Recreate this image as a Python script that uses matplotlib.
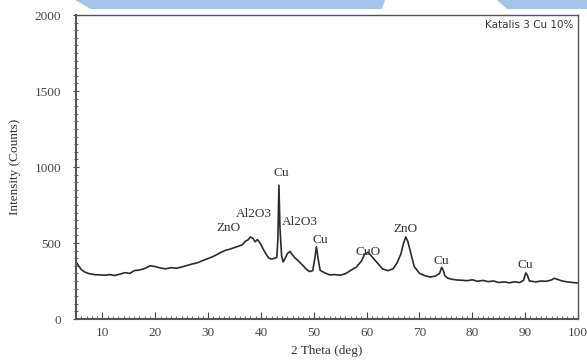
import matplotlib
matplotlib.use("Agg")
import matplotlib.pyplot as plt
from matplotlib.patches import Polygon
from matplotlib.ticker import MultipleLocator

# XRD pattern, Katalis 3 Cu 10%
two_theta = [5, 5.5, 6, 6.7, 7.5, 8.5, 9.5, 10.5, 11.4, 12.3,
             13.2, 14.3, 15.2, 16, 17, 18, 19, 20, 21, 22,
             23, 24, 25, 26, 27, 28, 29, 30, 31, 32,
             32.5, 33.3, 34, 35, 35.8, 36.5, 37, 37.6, 38, 38.5,
             38.9, 39.3, 39.6, 40, 40.5, 41, 41.5, 42, 42.5, 43,
             43.2, 43.4, 43.6, 43.9, 44.2, 44.6, 45, 45.5, 46, 46.5,
             47, 47.5, 48, 48.5, 49.2, 49.8, 50.2, 50.5, 50.8, 51.2,
             52, 53, 54, 55, 56, 57, 58, 59, 59.6, 60.3,
             61, 62, 63, 64, 65, 65.8, 66.5, 67, 67.4, 67.8,
             68.3, 69, 70, 71, 72, 73, 73.8, 74.2, 74.5, 74.8,
             75.3, 76, 77, 78, 79, 80, 81, 82, 83, 84,
             85, 86, 87, 88, 89, 89.7, 90.1, 90.4, 90.8, 91.3,
             92, 93, 94, 95, 95.5, 96, 97, 98, 99, 100]
intensity = [375, 350, 325, 308, 298, 292, 290, 288, 292, 286,
             294, 305, 300, 318, 322, 332, 350, 345, 335, 330,
             338, 334, 342, 352, 362, 370, 385, 398, 412, 430,
             440, 452, 458, 470, 480, 488, 510, 522, 540, 530,
             508, 522, 512, 490, 455, 425, 400, 395, 398, 405,
             520, 880, 600, 420, 375, 400, 430, 445, 420, 400,
             385, 368, 350, 330, 312, 318, 400, 475, 400, 320,
             305, 290, 292, 288, 298, 320, 340, 380, 425, 440,
             410, 370, 330, 318, 330, 372, 430, 500, 540, 510,
             440, 345, 300, 285, 276, 282, 300, 340, 320, 285,
             270, 262, 257, 255, 252, 258, 248, 254, 246, 250,
             240, 244, 238, 245, 240, 255, 303, 290, 250, 248,
             244, 250, 248, 257, 268, 262, 250, 244, 240, 237]

peak_labels = ["ZnO", "Al2O3", "Cu", "Al2O3", "Cu", "CuO", "ZnO", "Cu", "Cu"]
peak_x = [33.8, 38.6, 43.8, 47.3, 51.2, 60.2, 67.3, 74.2, 90.0]
peak_y = [600, 690, 960, 640, 520, 440, 590, 380, 355]

fig = plt.figure(figsize=(5.87, 3.63), dpi=100)

# blue page decoration at the top edge
fig.patches.append(Polygon([[75 / 587, 1], [385 / 587, 1], [382 / 587, 1 - 9 / 363],
                            [91 / 587, 1 - 9 / 363]], closed=True, transform=fig.transFigure,
                           facecolor="#a6c3e9", edgecolor="none"))
fig.patches.append(Polygon([[497 / 587, 1], [1, 1], [1, 1 - 9 / 363],
                            [507 / 587, 1 - 9 / 363]], closed=True, transform=fig.transFigure,
                           facecolor="#a6c3e9", edgecolor="none"))

ax = fig.add_axes([76 / 587, 1 - 319 / 363, 502 / 587, 304 / 363])
ax.plot(two_theta, intensity, color="#2b2b2b", lw=1.2)

for lab, px, py in zip(peak_labels, peak_x, peak_y):
    ax.text(px, py, lab, ha="center", va="center", fontsize=9.5,
            family="Liberation Serif", color="#333333")

ax.text(0.99, 0.985, "Katalis 3 Cu 10%", transform=ax.transAxes, ha="right", va="top",
        fontsize=7.5, color="#333333")

ax.set_xlim(5, 100)
ax.set_ylim(0, 2000)
ax.set_xticks([10, 20, 30, 40, 50, 60, 70, 80, 90, 100])
ax.set_yticks([0, 500, 1000, 1500, 2000])
ax.xaxis.set_minor_locator(MultipleLocator(1))
ax.yaxis.set_minor_locator(MultipleLocator(50))
ax.tick_params(axis="x", which="both", direction="in", labelsize=9.5, pad=6, colors="#444444")
ax.tick_params(axis="y", which="both", direction="inout", labelsize=9.5, pad=8, colors="#444444")
ax.tick_params(which="major", length=5)
ax.tick_params(which="minor", length=2.5)
for lbl in ax.get_xticklabels() + ax.get_yticklabels():
    lbl.set_family("Liberation Serif")
for s in ax.spines.values():
    s.set_color("#555555")
    s.set_linewidth(1.0)
ax.spines["left"].set_linewidth(1.5)
ax.spines["bottom"].set_linewidth(1.5)

ax.set_xlabel("2 Theta (deg)", fontsize=9.5, family="Liberation Serif", color="#333333",
              labelpad=4)
ax.set_ylabel("Intensity (Counts)", fontsize=9.5, family="Liberation Serif", color="#333333",
              labelpad=10)

fig.savefig("out.png", dpi=100)
